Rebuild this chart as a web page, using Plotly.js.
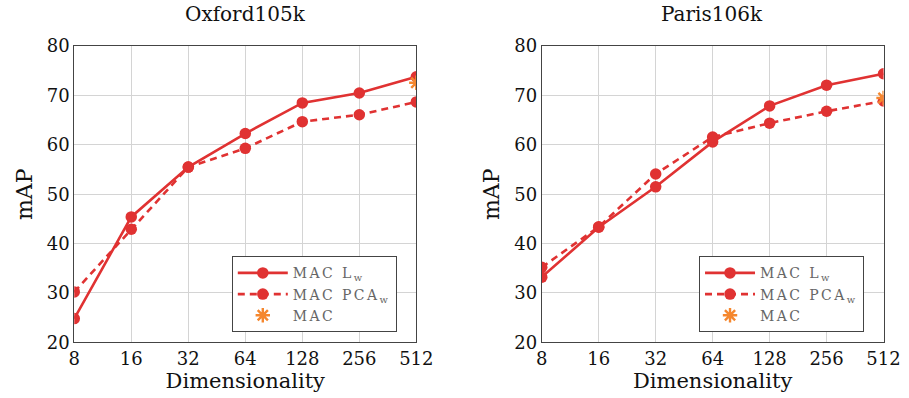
<!DOCTYPE html>
<html>
<head>
<meta charset="utf-8">
<script src="https://cdn.plot.ly/plotly-3.0.1.min.js"></script>
<style>
html,body{margin:0;padding:0;background:#fff}
#chart{width:909px;height:398px}
.legendtext,.legend2text{letter-spacing:2.4px}
</style>
</head>
<body>
<div id="chart"></div>
<script>
const dims = [8, 16, 32, 64, 128, 256, 512];
const tickLabels = ['8', '16', '32', '64', '128', '256', '512'];
const oxfordLw = [24.8, 45.4, 55.5, 62.3, 68.5, 70.5, 73.8];
const oxfordPCAw = [30.2, 42.9, 55.5, 59.3, 64.7, 66.1, 68.7];
const oxfordMAC = [72.6];
const parisLw = [33.2, 43.3, 51.5, 60.6, 67.9, 72.1, 74.4];
const parisPCAw = [35.2, 43.4, 54.1, 61.6, 64.4, 66.8, 68.9];
const parisMAC = [69.5];
const macDim = [512];

const red = '#e03232';
const orange = '#f5872e';
const font = 'DejaVu Serif';

function series(x, y, name, dash, xa, ya, leg) {
  return {x: x, y: y, name: name, type: 'scatter', mode: 'lines+markers',
    xaxis: xa, yaxis: ya, legend: leg,
    line: {color: red, width: 2.6, dash: dash},
    marker: {color: red, size: 11.5, symbol: 'circle'}};
}
function star(x, y, xa, ya, leg) {
  return {x: x, y: y, name: 'MAC', type: 'scatter', mode: 'markers',
    xaxis: xa, yaxis: ya, legend: leg,
    marker: {symbol: 'asterisk-open', size: 12, color: orange, line: {color: orange, width: 2.4}}};
}

const data = [
  series(dims, oxfordLw, 'MAC L<sub>w</sub>', 'solid', 'x', 'y', 'legend'),
  series(dims, oxfordPCAw, 'MAC PCA<sub>w</sub>', '7px,5px', 'x', 'y', 'legend'),
  star(macDim, oxfordMAC, 'x', 'y', 'legend'),
  series(dims, parisLw, 'MAC L<sub>w</sub>', 'solid', 'x2', 'y2', 'legend2'),
  series(dims, parisPCAw, 'MAC PCA<sub>w</sub>', '7px,5px', 'x2', 'y2', 'legend2'),
  star(macDim, parisMAC, 'x2', 'y2', 'legend2')
];

function xax(domain, anchor) {
  return {type: 'log', domain: domain, anchor: anchor,
    range: [Math.log10(8), Math.log10(512)],
    tickvals: dims, ticktext: tickLabels, ticks: '',
    showgrid: true, gridcolor: '#d4d4d4', gridwidth: 1,
    showline: true, linecolor: '#444', linewidth: 1, mirror: true,
    zeroline: false, tickfont: {family: font, size: 18, color: '#111'},
    title: {text: 'Dimensionality', font: {family: font, size: 21, color: '#111'}, standoff: 4}};
}
function yax(domain, anchor) {
  return {domain: domain, anchor: anchor, range: [20, 80], dtick: 10,
    ticks: '', showgrid: true, gridcolor: '#d4d4d4', gridwidth: 1,
    showline: true, linecolor: '#444', linewidth: 1, mirror: true,
    zeroline: false, tickfont: {family: font, size: 18, color: '#111'},
    title: {text: 'mAP', font: {family: font, size: 22, color: '#111'}, standoff: 8}};
}
function legend(x) {
  return {x: x, y: 0.356, xanchor: 'left', yanchor: 'top',
    bgcolor: '#fff', bordercolor: '#444', borderwidth: 1,
    font: {family: font, size: 14, color: '#666'},
    itemwidth: 50, tracegroupgap: 0};
}

const layout = {
  width: 909, height: 398,
  margin: {l: 0, r: 0, t: 0, b: 0},
  paper_bgcolor: '#fff', plot_bgcolor: '#fff',
  showlegend: true,
  xaxis: xax([0.0817, 0.458], 'y'),
  yaxis: yax([0.14, 0.884], 'x'),
  xaxis2: xax([0.596, 0.972], 'y2'),
  yaxis2: yax([0.14, 0.884], 'x2'),
  legend: legend(0.255),
  legend2: legend(0.769),
  annotations: [
    {text: 'Oxford105k', x: 245 / 909, y: 1, xref: 'paper', yref: 'paper', xanchor: 'center', yanchor: 'top',
     showarrow: false, font: {family: font, size: 20, color: '#111'}},
    {text: 'Paris106k', x: 712 / 909, y: 1, xref: 'paper', yref: 'paper', xanchor: 'center', yanchor: 'top',
     showarrow: false, font: {family: font, size: 20, color: '#111'}}
  ]
};

Plotly.newPlot('chart', data, layout, {displayModeBar: false, staticPlot: true});
</script>
</body>
</html>
